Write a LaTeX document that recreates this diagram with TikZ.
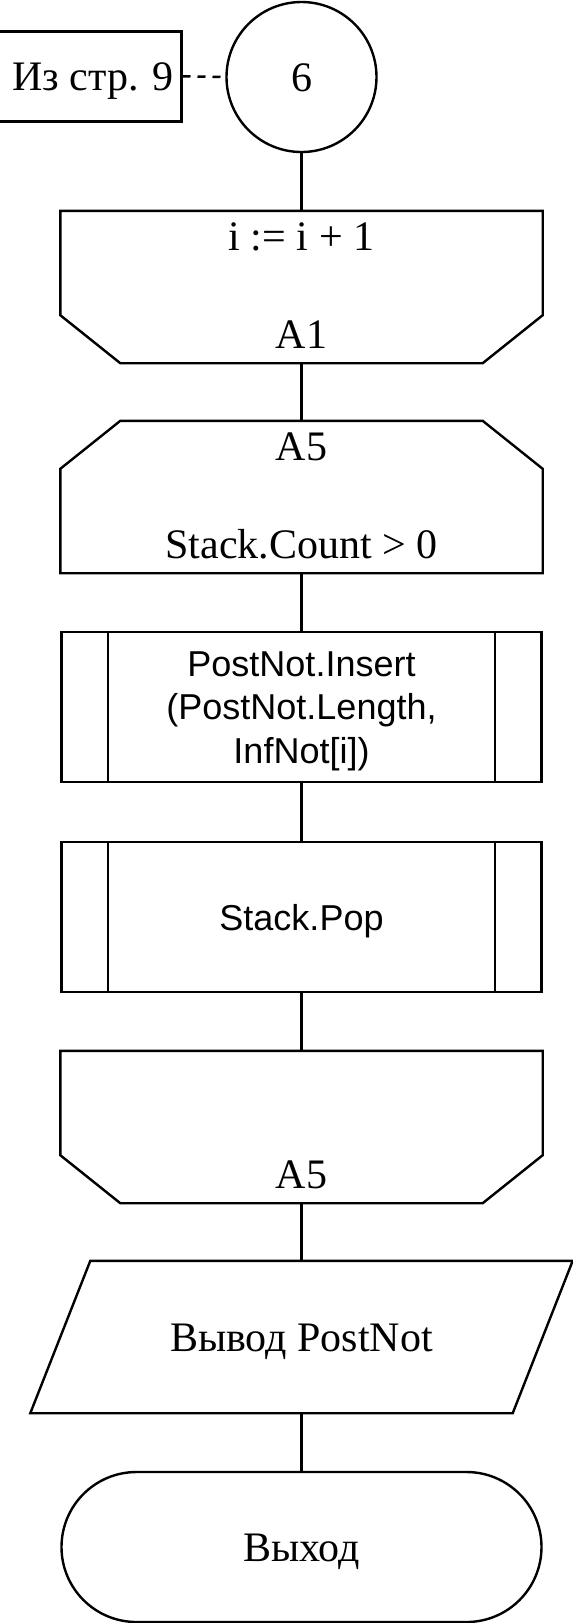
\documentclass[tikz,border=0pt]{standalone}
\usepackage{fontspec}
\setmainfont{Liberation Serif}
\setsansfont{Liberation Sans}
\usetikzlibrary{calc}
\tikzstyle{block}=[rectangle, inner sep=0pt, minimum width=480pt, minimum height=150pt]
\tikzstyle{serifText}=[font=\fontsize{42}{50}\selectfont, text height=28pt, text depth=0pt]
\tikzstyle{sansText}=[font=\sffamily\fontsize{36}{43.5}\selectfont, align=center]
\tikzstyle{line}=[line width=2.4pt]
\tikzstyle{dashLine}=[line width=2.4pt, dash pattern=on 8pt off 7pt]

\begin{document}
\begin{tikzpicture}[x=1pt, y=-1pt, line width=2.4pt]
      \useasboundingbox (0,0) rectangle (573,1623);

      \node[circle, draw, minimum size=150pt, inner sep=0pt, serifText] (conn) at (301.5,77) {6};
      \node[draw, minimum width=190pt, minimum height=90pt, inner sep=0pt] (from) at (86.3,76.3) {};
      \node[serifText] (fromText) at (93.3,76.3) {Из стр. 9};

      \node[block] (loopA) at (301.5,287) {};
      \node[block] (loopB) at (301.5,497) {};
      \node[block, draw] (procA) at (301.5,707) {};
      \node[block, draw] (procB) at (301.5,917) {};
      \node[block] (loopC) at (301.5,1127) {};
      \node[block, minimum width=540pt, serifText] (output) at (301.5,1337) {Вывод PostNot};
      \node[block, draw, rounded corners=75pt, serifText] (exit) at (301.5,1547) {Выход};

      % loop ends (cut corners below)
      \foreach \n in {loopA, loopC}{
        \draw (\n.north west) -- (\n.north east) -- ($(\n.south east)+(0,-48)$)
        -- ($(\n.south east)+(-60,0)$) -- ($(\n.south west)+(60,0)$)
        -- ($(\n.south west)+(0,-48)$) -- cycle;
      }
      % loop start (cut corners above)
      \draw (loopB.south west) -- (loopB.south east) -- ($(loopB.north east)+(0,48)$)
      -- ($(loopB.north east)+(-60,0)$) -- ($(loopB.north west)+(60,0)$)
      -- ($(loopB.north west)+(0,48)$) -- cycle;

      \foreach \n in {procA, procB}{
        \draw ($(\n.north west)+(47.5,0)$) -- ($(\n.south west)+(47.5,0)$);
        \draw ($(\n.north east)+(-47.5,0)$) -- ($(\n.south east)+(-47.5,0)$);
      }

      \draw ($(output.north west)+(60,0)$) -- (output.north east)
      -- ($(output.south east)+(-60,0)$) -- (output.south west) -- cycle;

      \node[serifText, anchor=base] (loopAtop) at ($(loopA.north)+(0,40)$) {i := i + 1};
      \node[serifText, anchor=base] (loopAbot) at ($(loopA.south)+(0,-15)$) {A1};
      \node[serifText, anchor=base] (loopBtop) at ($(loopB.north)+(0,40)$) {A5};
      \node[serifText, anchor=base] (loopBbot) at ($(loopB.south)+(0,-15)$) {Stack.Count > 0};
      \node[serifText, anchor=base] (loopCbot) at ($(loopC.south)+(0,-15)$) {A5};
      \node[sansText] (procAText) at (301.5,711) {PostNot.Insert\\(PostNot.Length,\\InfNot[i])};
      \node[sansText, anchor=base] (procBText) at (301.5,930) {Stack.Pop};

      \draw[dashLine] (from.east) -- (conn.west);
      \foreach \a/\b in {conn/loopA, loopA/loopB, loopB/procA, procA/procB,
        procB/loopC, loopC/output, output/exit}{
        \draw (\a.south) -- (\b.north);
      }
    \end{tikzpicture}
\end{document}
